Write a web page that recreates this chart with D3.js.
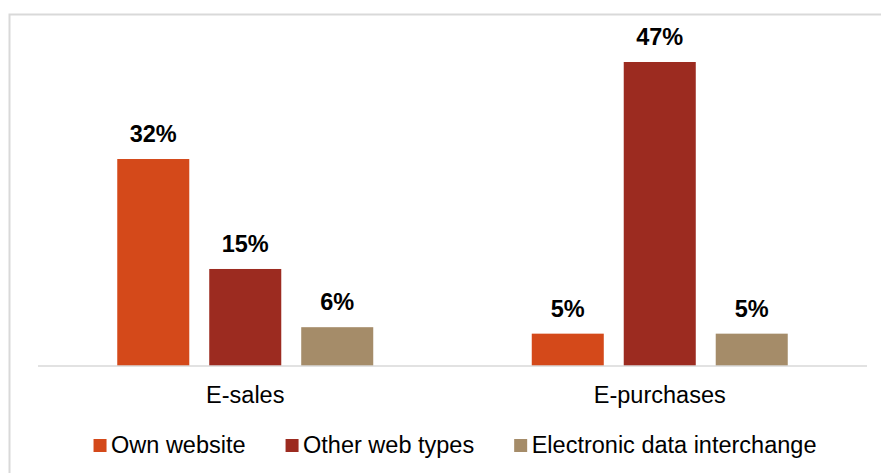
<!DOCTYPE html>
<html><head><meta charset="utf-8">
<script src="https://cdn.jsdelivr.net/npm/d3@7"></script>
<style>body{margin:0;background:#fff;} text{font-family:"Liberation Sans",Arial,sans-serif;}</style>
</head><body><svg id="c" width="881" height="473"></svg>
<script>
const categories = ["E-sales", "E-purchases"];
const seriesNames = ["Own website", "Other web types", "Electronic data interchange"];
const ownWebsite = [32, 5];
const otherWebTypes = [15, 47];
const electronicDataInterchange = [6, 5];
const colors = ["#d4491a", "#9c2b20", "#a58c69"];
const seriesValues = [ownWebsite, otherWebTypes, electronicDataInterchange];

const svg = d3.select("#c");
svg.append("rect").attr("x",9.5).attr("y",14.5).attr("width",900).attr("height",500)
  .attr("fill","none").attr("stroke","#d9d9d9").attr("stroke-width",2);

const x0 = d3.scaleBand().domain(categories).range([38,867]).paddingInner(0.3824).paddingOuter(0.1912);
const x1 = d3.scaleBand().domain(seriesNames).range([0,x0.bandwidth()]).paddingInner(0.217).paddingOuter(0);
const y = d3.scaleLinear().domain([0,47]).range([366,62]);

const g = svg.append("g");
categories.forEach((c,ci)=>{
  seriesNames.forEach((s,si)=>{
    const v = seriesValues[si][ci];
    const bx = x0(c)+x1(s);
    g.append("rect").attr("x",bx).attr("y",y(v)).attr("width",x1.bandwidth()).attr("height",y(0)-y(v)).attr("fill",colors[si]);
    g.append("text").attr("x",bx+x1.bandwidth()/2).attr("y",y(v)-17).attr("text-anchor","middle")
      .attr("font-size",23.5).attr("font-weight","bold").attr("fill","#000").text(v+"%");
  });
});

const xAxis = svg.append("g").attr("transform","translate(0,366)")
  .call(d3.axisBottom(x0).tickSize(0).tickPadding(0));
xAxis.select(".domain").attr("stroke","#d9d9d9").attr("stroke-width",1.5).attr("d","M38,0H867");
xAxis.selectAll("text").attr("font-size",23.5).attr("fill","#000").attr("dy",0).attr("y",37)
  .style("font-family","'Liberation Sans',Arial,sans-serif");

const leg = svg.append("g");
let cx = 0;
seriesNames.forEach((s,i)=>{
  const it = leg.append("g");
  it.append("rect").attr("x",0).attr("y",-14).attr("width",13).attr("height",13).attr("fill",colors[i]);
  const t = it.append("text").attr("x",17.5).attr("y",0).attr("font-size",23.5).attr("fill","#000").text(s);
  const w = 17.5 + t.node().getComputedTextLength();
  it.attr("transform",`translate(${cx},0)`);
  cx += w + 40;
});
const total = cx - 40;
leg.attr("transform",`translate(${455 - total/2},453)`);
</script></body></html>
